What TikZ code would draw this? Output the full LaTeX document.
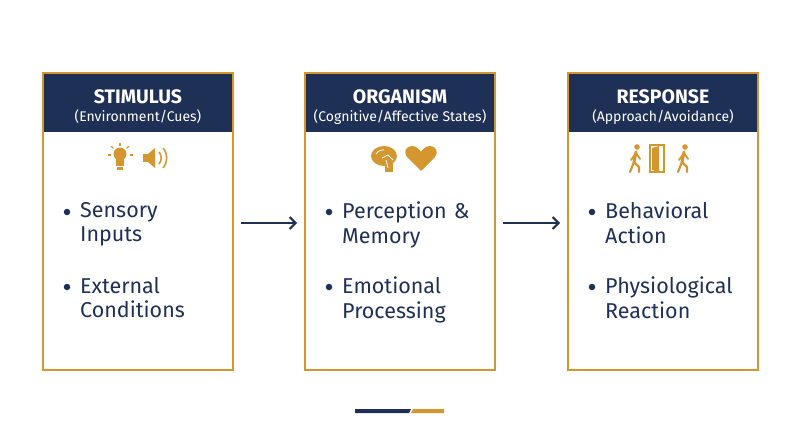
\documentclass[tikz,border=0pt]{standalone}
\usepackage{fontspec}
\setmainfont{Fira Sans}
\usetikzlibrary{arrows.meta}
\definecolor{navy}{HTML}{1F3057}
\definecolor{gold}{HTML}{D4962E}
\begin{document}
\begin{tikzpicture}[x=1pt,y=-1pt,
  box/.style={draw=gold,line width=2pt,fill=white},
  head/.style={fill=navy},
  ttl/.style={text=white,font=\fontsize{19.5}{21}\selectfont\bfseries},
  sub/.style={text=white,font=\fontsize{14}{16}\selectfont},
  item/.style={text=navy,align=left,anchor=north west,font=\fontsize{21.5}{24.5}\selectfont,text width=150pt,inner sep=0pt},
  dot/.style={fill=navy,circle,inner sep=0pt,minimum size=6.5pt},
  conn/.style={navy,line width=2pt,-{Straight Barb[length=6pt,width=12pt]}},
  ic/.style={fill=gold,draw=none}]
\useasboundingbox (0,0) rectangle (800,447);
\foreach \n/\x/\t/\s in {s/43/STIMULUS/{(Environment/Cues)},o/305/ORGANISM/{(Cognitive/Affective States)},r/568/RESPONSE/{(Approach/Avoidance)}}{
  \draw[box] (\x,73) rectangle (\x+190,370);
  \fill[head] (\x+1,74) rectangle (\x+189,132);
  \node[ttl] (\n t) at (\x+95,97) {\t};
  \node[sub] (\n s) at (\x+95,117) {\s};
}
\coordinate (sR) at (233,223); \coordinate (oL) at (305,223);
\coordinate (oR) at (495,223); \coordinate (rL) at (568,223);
\draw[conn] ([xshift=8pt]sR) -- ([xshift=-8pt]oL);
\draw[conn] ([xshift=8pt]oR) -- ([xshift=-8pt]rL);
% items
\foreach \x/\a/\b in {43/{Sensory\\Inputs}/{External\\Conditions},305/{Perception \&\\Memory}/{Emotional\\Processing},568/{Behavioral\\Action}/{Physiological\\Reaction}}{
  \node[dot] at (\x+24,212) {};
  \node[item] at (\x+37,202) {\a};
  \node[dot] at (\x+24,287) {};
  \node[item] at (\x+37,277) {\b};
}
\begin{scope}[gold]
% bulb
\fill (120,154) circle (6.5);
\fill (116,158) rectangle (124,166);
\fill (117,167) rectangle (123,170);
\foreach \a in {0,45,135,180,90}{\draw[line width=1.2pt] (120,155)++(-\a:9.5) -- ++(-\a:3);}
% speaker
\fill (143,154) rectangle (148,162);
\fill (148,154) -- (155,148) -- (155,168) -- (148,162) -- cycle;
\draw[line width=1.5pt] (159,152) to[bend left=40] (159,164);
\draw[line width=1.5pt] (163,148) to[bend left=40] (163,168);
% brain
\fill (384,156) ellipse (13 and 10);
\fill (385,162) rectangle (393,172);
\draw[white,line width=0.8pt] (376,154) to[bend left] (384,150) (382,158) -- (388,155) -- (393,160) (386,160) -- (388,168);
% heart
\fill (421,171) -- (407,157) .. controls (403,152) and (406,146) .. (412,146) .. controls (417,146) and (420,150) .. (421,152) .. controls (422,150) and (425,146) .. (430,146) .. controls (436,146) and (439,152) .. (435,157) -- cycle;
% walkers
\foreach \px in {637,685}{
  \fill (\px,147) circle (2.8);
  \draw[line width=3pt,line cap=round] (\px-1,152) -- (\px-3,162);
  \draw[line width=2.2pt,line cap=round] (\px-3,162) -- (\px-7,172) (\px-3,162) -- (\px+2,167) -- (\px+2,172);
  \draw[line width=1.8pt,line cap=round] (\px-1,153) -- (\px-6,160) (\px-1,153) -- (\px+3,159);
}
\draw[line width=1.8pt] (650,145) rectangle (664,172);
\fill (652,148) -- (659,146) -- (659,172) -- (652,170) -- cycle;
\end{scope}
% bottom bar
\fill[navy] (355,409) -- (411,409) -- (409,413) -- (355,413) -- cycle;
\fill[gold] (413,409) -- (444,409) -- (444,413) -- (411,413) -- cycle;
\end{tikzpicture}
\end{document}
